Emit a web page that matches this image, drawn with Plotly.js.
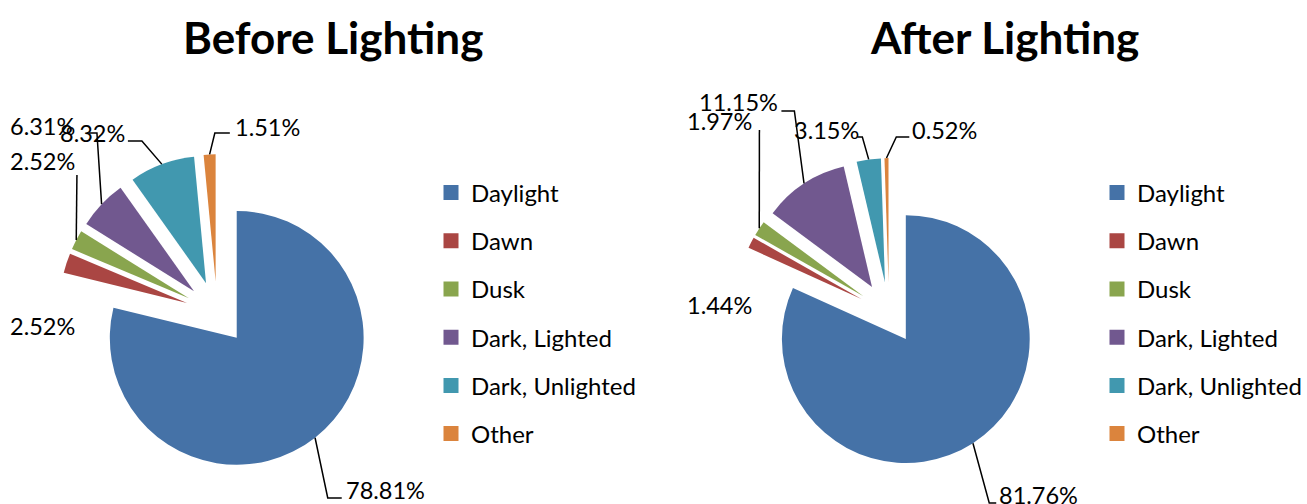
<!DOCTYPE html>
<html><head><meta charset="utf-8">
<script src="https://cdn.plot.ly/plotly-3.0.1.min.js"></script>
<style>html,body{margin:0;padding:0;background:#fff}#chart{width:1307px;height:504px}</style>
</head><body><div id="chart"></div>
<script>
// ---- data ----
const categories = ['Daylight', 'Dawn', 'Dusk', 'Dark, Lighted', 'Dark, Unlighted', 'Other'];
const beforeValues = [78.81, 2.52, 2.52, 6.31, 8.32, 1.51];
const afterValues = [81.76, 1.44, 1.97, 11.15, 3.15, 0.52];
const chartTitles = ['Before Lighting', 'After Lighting'];
const colors = ['#4572A7', '#AA4643', '#89A54E', '#71588F', '#4198AF', '#DB843D'];

// ---- layout helpers ----
const W = 1307, H = 504;
const PULL = 0.25;
const FONT = 'Lato, "Open Sans", sans-serif';
const px2x = x => x / W;
const px2y = y => 1 - y / H;

// label text placement (left edge px, vertical centre px) and leader elbows (near text -> slice)
const pies = [
  {values: beforeValues, cx: 217.3, cy: 312.9, half: 158.75, legend: 'legend', title: chartTitles[0], titleX: 333,
   labels: [
     {x: 345, y: 490, lead: [[342, 498], [328, 498]]},
     {x: 9, y: 326, lead: null},
     {x: 9, y: 161, lead: [[77, 175]]},
     {x: 9, y: 126, lead: [[89, 133], [97, 133]]},
     {x: 59, y: 133, lead: [[128, 141], [142, 141]]},
     {x: 234, y: 126.5, lead: [[230, 133], [215, 133]]}
   ]},
  {values: afterValues, cx: 889.7, cy: 313, half: 155, legend: 'legend2', title: chartTitles[1], titleX: 1005,
   labels: [
     {x: 999, y: 495, lead: [[997, 503], [990, 503]]},
     {x: 687, y: 304.5, lead: null},
     {x: 687, y: 120.5, lead: [[760, 130]]},
     {x: 699, y: 102.5, lead: [[782, 111], [795, 111]]},
     {x: 794, y: 129.5, lead: [[858, 137], [863, 137]]},
     {x: 912, y: 130, lead: [[910, 137], [897, 137]]}
   ]}
];

const traces = [];
const annotations = [];
const shapes = [];

pies.forEach((p, k) => {
  traces.push({
    type: 'pie',
    values: p.values,
    labels: categories,
    sort: false,
    direction: 'clockwise',
    rotation: 0,
    pull: p.values.map(() => PULL),
    marker: {colors: colors, line: {width: 0}},
    textinfo: 'none',
    hoverinfo: 'label+percent',
    showlegend: false,
    domain: {x: [px2x(p.cx - p.half), px2x(p.cx + p.half)], y: [px2y(p.cy + p.half), px2y(p.cy - p.half)]}
  });
  // legend entries (one per category, so the spacing can be set)
  categories.forEach((c, i) => {
    traces.push({
      type: 'scatter', mode: 'markers', x: [null], y: [null], name: c,
      legend: p.legend, legendgroup: p.legend + i,
      marker: {symbol: 'square', size: 15, color: colors[i], line: {width: 0}},
      hoverinfo: 'skip'
    });
  });
  // title
  annotations.push({
    xref: 'paper', yref: 'paper', x: px2x(p.titleX), y: px2y(37), xanchor: 'center', yanchor: 'middle',
    text: '<b>' + p.title + '</b>', showarrow: false,
    font: {family: FONT, size: 44, color: '#000'}
  });
  // data labels + leader lines
  const total = p.values.reduce((a, b) => a + b, 0);
  let cum = 0;
  p.values.forEach((v, i) => {
    const mid = (cum + v / 2) / total;
    cum += v;
    const th = 2 * Math.PI * mid;
    const tip = [p.cx + p.half * Math.sin(th), p.cy - p.half * Math.cos(th)];
    const lab = p.labels[i];
    annotations.push({
      xref: 'paper', yref: 'paper', x: px2x(lab.x), y: px2y(lab.y), xanchor: 'left', yanchor: 'middle',
      text: v.toFixed(2) + '%', showarrow: false, borderpad: 0,
      font: {family: FONT, size: 23.5, color: '#000'}
    });
    if (lab.lead) {
      const pts = lab.lead.concat([tip]);
      const d = pts.map((q, j) => (j ? 'L' : 'M') + px2x(q[0]).toFixed(5) + ',' + px2y(q[1]).toFixed(5)).join(' ');
      shapes.push({type: 'path', xref: 'paper', yref: 'paper', path: d, line: {color: '#000', width: 1.5}});
    }
  });
});

const legendBase = {
  xanchor: 'left', yanchor: 'top', y: px2y(170.5),
  font: {family: FONT, size: 24, color: '#000'},
  tracegroupgap: 14, bgcolor: 'rgba(0,0,0,0)', borderwidth: 0
};

const layout = {
  width: W, height: H,
  margin: {l: 0, r: 0, t: 0, b: 0},
  paper_bgcolor: '#fff', plot_bgcolor: '#fff',
  xaxis: {visible: false}, yaxis: {visible: false},
  showlegend: true,
  legend: Object.assign({}, legendBase, {x: px2x(431)}),
  legend2: Object.assign({}, legendBase, {x: px2x(1098)}),
  annotations: annotations,
  shapes: shapes
};

Plotly.newPlot('chart', traces, layout, {displayModeBar: false, responsive: false});
</script>
</body></html>
